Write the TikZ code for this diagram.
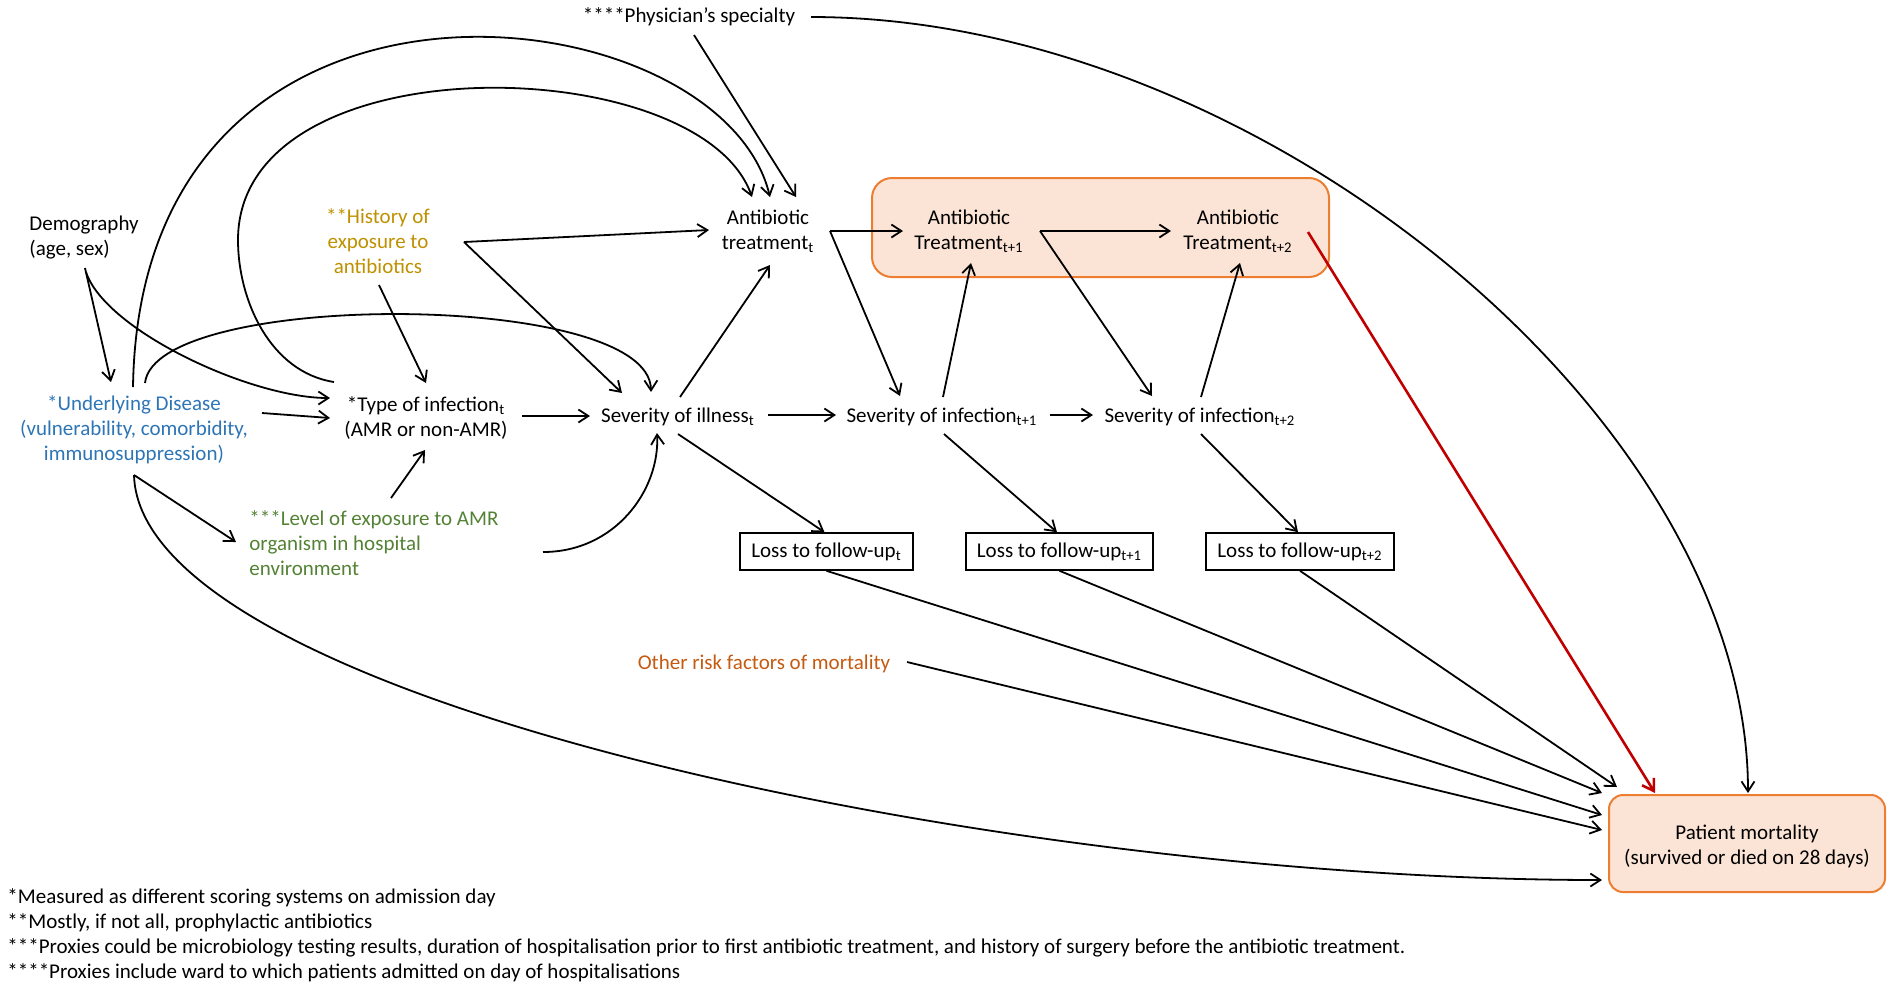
\documentclass[tikz,border=0pt]{standalone}
\usepackage{fontspec}
\setmainfont{Carlito}
\usetikzlibrary{arrows.meta,calc}
\definecolor{udblue}{HTML}{2E75B6}
\definecolor{histgold}{HTML}{BF9000}
\definecolor{levgreen}{HTML}{548235}
\definecolor{riskorange}{HTML}{C55A11}
\definecolor{boxedge}{HTML}{ED7D31}
\definecolor{boxfill}{HTML}{FBE4D5}
\definecolor{darkred}{HTML}{C00000}
\begin{document}
\begin{tikzpicture}[x=0.5pt,y=-0.5pt,
  every node/.style={font=\fontsize{10.5}{12.5}\selectfont, inner sep=0pt, align=center},
  lossbox/.style={draw, line width=0.8pt, fill=white, minimum height=18.5pt},
  hibox/.style={draw=boxedge, fill=boxfill, line width=1pt, rounded corners=10pt},
  arr/.style={line width=0.9pt, -{Straight Barb[length=5pt,width=6.5pt]}},
  redarr/.style={line width=1.3pt, draw=darkred, -{Straight Barb[length=5.5pt,width=7pt]}},
]
\useasboundingbox (0,0) rectangle (1897,987);

% highlighted group behind the later treatments
\node[hibox, minimum width=228.5pt, minimum height=49.5pt] (grp) at (1100.5,227.5) {};

% variables
\node (phys) at (689,17) {****Physician’s specialty};
\node[anchor=west, align=left] (demo) at (29,237.5) {Demography\\(age, sex)};
\node[text=histgold] (hist) at (378,241) {**History of\\exposure to\\antibiotics};
\node[text=udblue] (ud) at (134,430) {*Underlying Disease\\(vulnerability, comorbidity,\\immunosuppression)};
\node (type) at (426,418) {*Type of infection\textsubscript{t}\\(AMR or non-AMR)};
\node[anchor=west, align=left, text=levgreen] (level) at (249,543) {***Level of exposure to AMR\\organism in hospital\\environment};
\node (abt) at (768,231) {Antibiotic\\treatment\textsubscript{t}};
\node (ab1) at (969,231) {Antibiotic\\Treatment\textsubscript{t+1}};
\node (ab2) at (1238,231) {Antibiotic\\Treatment\textsubscript{t+2}};
\node (sev0) at (678,417) {Severity of illness\textsubscript{t}};
\node (sev1) at (942,417) {Severity of infection\textsubscript{t+1}};
\node (sev2) at (1200,417) {Severity of infection\textsubscript{t+2}};
\node[lossbox, minimum width=86.5pt] (loss0) at (826.5,551.5) {Loss to follow-up\textsubscript{t}};
\node[lossbox, minimum width=93.5pt] (loss1) at (1059.5,551.5) {Loss to follow-up\textsubscript{t+1}};
\node[lossbox, minimum width=94pt] (loss2) at (1300,551.5) {Loss to follow-up\textsubscript{t+2}};
\node[text=riskorange] (other) at (764,664) {Other risk factors of mortality};
\node[hibox, rounded corners=7pt, minimum width=138pt, minimum height=48.5pt,
      text height=23.2pt, text depth=2.7pt] (mort) at (1747,843.5) {Patient mortality\\(survived or died on 28 days)};

% footnotes
\node[anchor=west, align=left] (notes) at (7,935) {*Measured as different scoring systems on admission day\\
**Mostly, if not all, prophylactic antibiotics\\
***Proxies could be microbiology testing results, duration of hospitalisation prior to first antibiotic treatment, and history of surgery before the antibiotic treatment.\\
****Proxies include ward to which patients admitted on day of hospitalisations};

% demography
\draw[arr] ($(demo.west)+(56,30.5)$) -- ($(ud)+(-23,-48)$);
\draw[arr] ($(demo.west)+(57,34.5)$) .. controls +(19,58) and +(-80,0) .. ($(type)+(-96,-20)$);

% underlying disease
\draw[arr] ($(ud)+(128,-17)$) -- ($(type)+(-96,0)$);
\draw[arr] ($(ud)+(-1,-43)$) .. controls +(7,-467) and +(-50,-207) .. ($(abt)+(2,-34)$);
\draw[arr] ($(ud)+(11,-47)$) .. controls +(10,-93) and +(-1,-102) .. ($(sev0)+(-27,-25)$);
\draw[arr] ($(ud)+(0,45)$) -- ($(level.west)+(-13,-1)$);
\draw[arr] ($(ud)+(0,45)$) .. controls +(6,225) and +(-602,0) .. ($(mort)+(-145,36.5)$);

% type of infection
\draw[arr] ($(type)+(-92,-36)$) .. controls +(-64,-10) and +(0,60) .. (238,240)
  .. controls +(0,-200) and +(-52,-147) .. ($(abt)+(-16,-34)$);
\draw[arr] ($(type)+(96,-2)$) -- ($(sev0)+(-88,-1)$);

% history of exposure
\draw[arr] ($(hist)+(1,44)$) -- ($(type)+(0,-35)$);
\draw[arr] ($(hist)+(86,1)$) -- ($(abt)+(-59,-1)$);
\draw[arr] ($(hist)+(86,1)$) -- ($(sev0)+(-56,-24)$);

% level of exposure
\draw[arr] ($(level.west)+(142,-45)$) -- ($(type)+(-1,32)$);
\draw[arr] ($(level.west)+(294,9)$) .. controls +(72,0) and +(3,57) .. ($(sev0)+(-21,16)$);

% physician's specialty
\draw[arr] ($(phys)+(5,18)$) -- ($(abt)+(28,-34)$);
\draw[arr] ($(phys)+(122,0)$) .. controls +(449,0) and +(0,-373) .. ($(mort)+(1,-50.5)$);

% time step t
\draw[arr] ($(sev0)+(2,-20)$) -- ($(abt)+(2,34)$);
\draw[arr] ($(sev0)+(90,-2)$) -- ($(sev1)+(-106,-2)$);
\draw[arr] ($(sev0)+(0,17)$) -- ($(loss0.north)+(-2,0)$);
\draw[arr] ($(abt)+(62,0)$) -- ($(ab1)+(-66,0)$);
\draw[arr] ($(abt)+(62,0)$) -- ($(sev1)+(-42,-21)$);

% time step t+1
\draw[arr] ($(sev1)+(1,-20)$) -- ($(ab1)+(2,32)$);
\draw[arr] ($(sev1)+(108,-2)$) -- ($(sev2)+(-107,-2)$);
\draw[arr] ($(sev1)+(2,17)$) -- ($(loss1.north)+(-2.5,0)$);
\draw[arr] ($(ab1)+(71,0)$) -- ($(ab2)+(-67,0)$);
\draw[arr] ($(ab1)+(71,0)$) -- ($(sev2)+(-48,-21)$);

% time step t+2
\draw[arr] ($(sev2)+(1,-20)$) -- ($(ab2)+(2,32)$);
\draw[arr] ($(sev2)+(1,17)$) -- ($(loss2.north)+(-2,0)$);
\draw[redarr] ($(ab2)+(70,1)$) -- ($(mort)+(-92,-50.5)$);

% into mortality
\draw[arr] (loss0.south) -- ($(mort)+(-145,-28.5)$);
\draw[arr] (loss1.south) -- ($(mort)+(-145,-50.5)$);
\draw[arr] (loss2.south) -- ($(mort)+(-130,-56.5)$);
\draw[arr] ($(other)+(143,-2)$) -- ($(mort)+(-145,-13.5)$);
\end{tikzpicture}
\end{document}
